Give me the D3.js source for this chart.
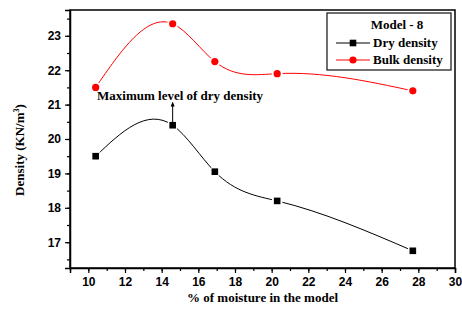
<!DOCTYPE html>
<html>
<head>
<meta charset="utf-8">
<script src="https://cdn.jsdelivr.net/npm/d3@7"></script>
<style>
  body { margin: 0; background: #fff; }
  .tick text { font-family: "Liberation Sans", Arial, sans-serif; font-weight: bold; font-size: 12px; }
  .lbl { font-family: "Liberation Serif", "Times New Roman", serif; font-weight: bold; font-size: 13px; }
</style>
</head>
<body>
<div id="chart"></div>
<script>
// Data

var moisture = [10.4, 14.6, 16.9, 20.3, 27.7];
var dryDensity = [19.5, 20.4, 19.05, 18.2, 16.75];
var bulkDensity = [21.5, 23.35, 22.25, 21.9, 21.4];
var xTicks = [10, 12, 14, 16, 18, 20, 22, 24, 26, 28, 30];
var yTicks = [17, 18, 19, 20, 21, 22, 23];

// Dimensions

var width = 462, height = 311;
var margin = { left: 70, top: 10, right: 7, bottom: 43 };

// Natural cubic spline y(x), the way the plotting program joins its points

function SplineX(context) { this._context = context; }
SplineX.prototype = {
  areaStart: function() {}, areaEnd: function() {},
  lineStart: function() { this._xs = []; this._ys = []; },
  point: function(x, y) { this._xs.push(+x); this._ys.push(+y); },
  lineEnd: function() {
    var xs = this._xs, ys = this._ys, n = xs.length, c = this._context;
    if (!n) return;
    c.moveTo(xs[0], ys[0]);
    if (n < 3) { for (var k = 1; k < n; k++) c.lineTo(xs[k], ys[k]); return; }
    var h = [], s = [], i;
    for (i = 0; i < n - 1; i++) { h[i] = xs[i + 1] - xs[i]; s[i] = (ys[i + 1] - ys[i]) / h[i]; }
    // tridiagonal solve for second derivatives
    var M = new Array(n).fill(0), a = [], b = [], cc = [], d = [];
    for (i = 1; i < n - 1; i++) {
      a[i] = h[i - 1]; b[i] = 2 * (h[i - 1] + h[i]); cc[i] = h[i]; d[i] = 6 * (s[i] - s[i - 1]);
    }
    for (i = 2; i < n - 1; i++) {
      var w = a[i] / b[i - 1];
      b[i] -= w * cc[i - 1]; d[i] -= w * d[i - 1];
    }
    for (i = n - 2; i >= 1; i--) {
      M[i] = (d[i] - (i < n - 2 ? cc[i] * M[i + 1] : 0)) / b[i];
    }
    var m = [];
    for (i = 0; i < n - 1; i++) m[i] = s[i] - h[i] * (2 * M[i] + M[i + 1]) / 6;
    m[n - 1] = s[n - 2] + h[n - 2] * (M[n - 2] + 2 * M[n - 1]) / 6;
    for (i = 0; i < n - 1; i++) {
      var t = h[i] / 3;
      c.bezierCurveTo(xs[i] + t, ys[i] + m[i] * t, xs[i + 1] - t, ys[i + 1] - m[i + 1] * t, xs[i + 1], ys[i + 1]);
    }
  }
};
function curveSplineX(context) { return new SplineX(context); }

var svg = d3.select("#chart").append("svg")
    .attr("width", width)
    .attr("height", height);

var x = d3.scaleLinear().domain([9, 30]).range([margin.left, width - margin.right]);
var y = d3.scaleLinear().domain([16.25, 23.75]).range([height - margin.bottom, margin.top]);

// Frame

svg.append("rect")
    .attr("x", x(9)).attr("y", y(23.75))
    .attr("width", x(30) - x(9)).attr("height", y(16.25) - y(23.75))
    .attr("fill", "none").attr("stroke", "#000").attr("stroke-width", 1.5);

// Axes

var xMinor = d3.range(9, 31, 1);
var yMinor = d3.range(16.5, 23.75, 0.5);

svg.append("g")
    .attr("transform", "translate(0," + y(16.25) + ")")
    .call(d3.axisBottom(x).tickValues(xMinor).tickSize(3).tickFormat(""))
    .call(function(g) { g.select(".domain").remove(); });

svg.append("g")
    .attr("transform", "translate(0," + y(16.25) + ")")
    .call(d3.axisBottom(x).tickValues(xTicks).tickSize(5).tickPadding(4).tickFormat(d3.format("d")))
    .call(function(g) { g.select(".domain").attr("stroke-width", 1.5); });

svg.append("g")
    .attr("transform", "translate(" + x(9) + ",0)")
    .call(d3.axisLeft(y).tickValues(yMinor).tickSize(3).tickFormat(""))
    .call(function(g) { g.select(".domain").remove(); });

svg.append("g")
    .attr("transform", "translate(" + x(9) + ",0)")
    .call(d3.axisLeft(y).tickValues(yTicks).tickSize(5).tickPadding(4).tickFormat(d3.format("d")))
    .call(function(g) { g.select(".domain").attr("stroke-width", 1.5); });

svg.selectAll(".tick line").attr("stroke-width", 1.2);

// Axis titles

svg.append("text")
    .attr("class", "lbl")
    .attr("x", (x(9) + x(30)) / 2).attr("y", 302)
    .attr("text-anchor", "middle")
    .text("% of moisture in the model");

var yt = svg.append("text")
    .attr("class", "lbl")
    .attr("transform", "translate(24,150) rotate(-90)")
    .attr("text-anchor", "middle");
yt.append("tspan").text("Density (KN/m");
yt.append("tspan").attr("dy", -5).attr("font-size", "8px").text("3");
yt.append("tspan").attr("dy", 5).text(")");

// Lines

var line = function(vals) {
  return d3.line()
    .x(function(d, i) { return x(moisture[i]); })
    .y(function(d) { return y(d); })
    .curve(curveSplineX)(vals);
};

svg.append("path")
    .attr("d", line(dryDensity))
    .attr("fill", "none").attr("stroke", "#000").attr("stroke-width", 1);

svg.append("path")
    .attr("d", line(bulkDensity))
    .attr("fill", "none").attr("stroke", "#ff0000").attr("stroke-width", 1);

// white halo so the line stops short of each marker
svg.selectAll(".halo")
    .data(dryDensity.concat(bulkDensity)).enter()
    .append("circle")
    .attr("cx", function(d, i) { return x(moisture[i % moisture.length]); })
    .attr("cy", function(d) { return y(d); })
    .attr("r", 5.5)
    .attr("fill", "#fff");

svg.selectAll(".dry")
    .data(dryDensity).enter()
    .append("rect")
    .attr("x", function(d, i) { return x(moisture[i]) - 3.3; })
    .attr("y", function(d) { return y(d) - 3.3; })
    .attr("width", 6.6).attr("height", 6.6)
    .attr("fill", "#000");

svg.selectAll(".bulk")
    .data(bulkDensity).enter()
    .append("circle")
    .attr("cx", function(d, i) { return x(moisture[i]); })
    .attr("cy", function(d) { return y(d); })
    .attr("r", 3.6)
    .attr("fill", "#ff0000");

// Annotation

svg.append("defs").append("marker")
    .attr("id", "arr")
    .attr("viewBox", "0 0 10 10")
    .attr("refX", 5).attr("refY", 5)
    .attr("markerWidth", 5).attr("markerHeight", 7)
    .attr("orient", "auto")
    .append("path").attr("d", "M0,1 L10,5 L0,9 Z").attr("fill", "#000");

svg.append("line")
    .attr("x1", x(14.6)).attr("y1", y(20.4) - 3)
    .attr("x2", x(14.6)).attr("y2", 104)
    .attr("stroke", "#000").attr("stroke-width", 1)
    .attr("marker-end", "url(#arr)");

svg.append("text")
    .attr("class", "lbl")
    .attr("x", 97).attr("y", 100)
    .text("Maximum level of dry density");

// Legend

var lg = svg.append("g").attr("transform", "translate(327,13)");

lg.append("rect")
    .attr("width", 124).attr("height", 57)
    .attr("fill", "#fff").attr("stroke", "#222").attr("stroke-width", 1.3);

lg.append("text").attr("class", "lbl")
    .attr("x", 70).attr("y", 16).attr("text-anchor", "middle")
    .text("Model - 8");

var items = [
  { name: "Dry density", color: "#000", shape: "square" },
  { name: "Bulk density", color: "#ff0000", shape: "circle" }
];

items.forEach(function(it, i) {
  var yy = 30 + i * 17;
  lg.append("line")
    .attr("x1", 9).attr("x2", 43).attr("y1", yy).attr("y2", yy)
    .attr("stroke", it.color).attr("stroke-width", 1);
  if (it.shape === "square") {
    lg.append("rect").attr("x", 22.7).attr("y", yy - 3.3).attr("width", 6.6).attr("height", 6.6).attr("fill", it.color);
  } else {
    lg.append("circle").attr("cx", 26).attr("cy", yy).attr("r", 3.6).attr("fill", it.color);
  }
  lg.append("text").attr("class", "lbl")
    .attr("x", 46).attr("y", yy + 4)
    .text(it.name);
});
</script>
</body>
</html>
